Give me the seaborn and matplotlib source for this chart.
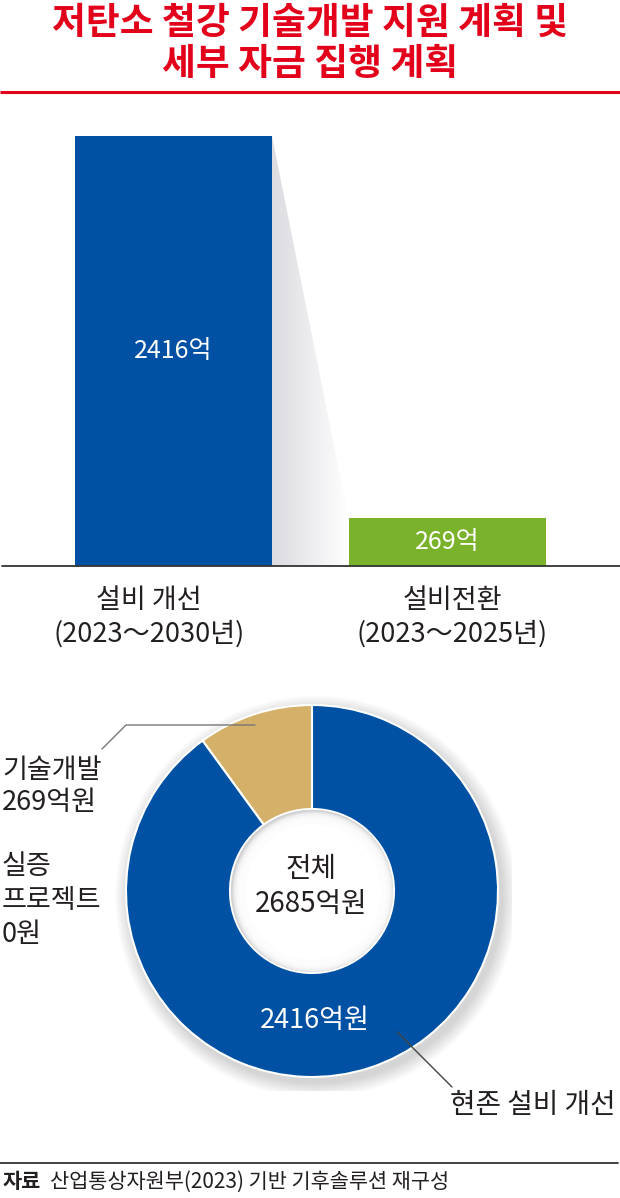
import numpy as np
import pandas as pd
import matplotlib
matplotlib.use("Agg")
import matplotlib.pyplot as plt
import seaborn as sns
from matplotlib.patches import Polygon, Circle

# ---------------- data ----------------
title_lines = ["저탄소 철강 기술개발 지원 계획 및", "세부 자금 집행 계획"]
bar_categories = ["설비 개선", "설비전환"]
bar_periods = ["(2023～2030년)", "(2023～2025년)"]
bar_values = [2416, 269]
bar_value_labels = ["2416억", "269억"]
donut_categories = ["기술개발", "실증 프로젝트", "현존 설비 개선"]
donut_values = [269, 0, 2416]
donut_side_labels = ["기술개발\n269억원", "실증\n프로젝트\n0원"]
donut_inner_label = "2416억원"
donut_outer_label = "현존 설비 개선"
total_lines = ["전체", "2685억원"]
source_head = "자료"
source_text = "산업통상자원부(2023) 기반 기후솔루션 재구성"

# ---------------- style ----------------
RED = "#e2001a"
BLUE = "#0051a3"
GREEN = "#7ab32b"
TAN = "#d4b068"
DARK = "#231f20"

W, H = 620, 1198
sns.set_theme(style="white")
plt.rcParams["font.family"] = ["Noto Sans CJK KR", "DejaVu Sans"]

fig = plt.figure(figsize=(W / 100, H / 100), dpi=100)
fig.patch.set_facecolor("white")


def ax_px(x0, y0, w, h):
    return fig.add_axes([x0 / W, 1 - (y0 + h) / H, w / W, h / H])


# overlay axes in pixel coordinates (y downward)
ov = fig.add_axes([0, 0, 1, 1], zorder=10)
ov.set_xlim(0, W)
ov.set_ylim(H, 0)
ov.axis("off")
ov.patch.set_alpha(0)

# ---------------- title ----------------
ov.text(310, 23, title_lines[0], ha="center", va="center", fontsize=26.5,
        fontweight="black", color=RED)
ov.text(310, 65, title_lines[1], ha="center", va="center", fontsize=26.5,
        fontweight="black", color=RED)
ov.plot([0, 620], [92, 92], color=RED, lw=2.2, solid_capstyle="butt")

# ---------------- bar chart ----------------
base_y, top_y = 566, 136
axb = ax_px(0, 100, 620, base_y - 100)
ymax = bar_values[0] * (base_y - 100) / (base_y - top_y)
spacing = 447 - 173.5
bw = 197 / spacing
df_bar = pd.DataFrame({"cat": bar_categories, "val": bar_values})
sns.barplot(data=df_bar, x="cat", y="val", hue="cat", palette=[BLUE, GREEN],
            width=bw, saturation=1, legend=False, ax=axb, zorder=3,
            edgecolor="none", linewidth=0)
axb.set_xlim(-173.5 / spacing, (620 - 173.5) / spacing)
axb.set_ylim(0, ymax)
axb.axis("off")

# gradient shadow between bars
x_l, x_r = bw / 2, 1 - bw / 2
poly = Polygon([(x_l, bar_values[0]), (x_r, bar_values[1]), (x_r, 0), (x_l, 0)],
               closed=True, facecolor="none", edgecolor="none")
axb.add_patch(poly)
g = np.linspace(0, 1, 256)
c0 = np.array([0.86, 0.86, 0.88])
c1 = np.array([1.0, 1.0, 1.0])
img = (c0[None, :] * (1 - g[:, None]) + c1[None, :] * g[:, None])[None, :, :]
im = axb.imshow(img, extent=[x_l, x_r, 0, bar_values[0]], aspect="auto",
                zorder=2, interpolation="bilinear")
im.set_clip_path(poly)

for i, (v, lab) in enumerate(zip(bar_values, bar_value_labels)):
    axb.text(i, v / 2, lab, ha="center", va="center", color="white",
             fontsize=18, zorder=5)

ov.plot([2, 620], [base_y, base_y], color="#333333", lw=1.3)

label_x = [149, 452]
for x, c, p in zip(label_x, bar_categories, bar_periods):
    ov.text(x, 601, c, ha="center", va="center", fontsize=19.5, color=DARK)
    ov.text(x, 634, p, ha="center", va="center", fontsize=19.5, color=DARK)

# ---------------- donut ----------------
cx, cy, R_px, r_px = 312, 891, 186, 82
axd = ax_px(cx - 200, cy - 200, 400, 400)
R = R_px / 200
r_in = r_px / 200

wedges, _ = axd.pie(donut_values, colors=[TAN, TAN, BLUE], startangle=90,
                    counterclock=True, radius=R,
                    wedgeprops=dict(width=R - r_in, edgecolor="white",
                                    linewidth=1.5))
for w_ in wedges:
    w_.set_zorder(3)
axd.set_xlim(-1, 1)
axd.set_ylim(-1, 1)
axd.set_aspect("equal")
axd.axis("off")

# soft outer shadow
n = 14
for i in range(n):
    rr = R + 0.075 * (1 - i / n)
    axd.add_patch(Circle((0.02, -0.028), rr, color="black", alpha=0.011,
                         lw=0, zorder=1))

# inner hole with soft shadow
axd.add_patch(Circle((0, 0), r_in - 0.004, color="#d2d2d4", lw=0, zorder=4))
m = 16
for i in range(m):
    rr = r_in - 0.006 - 0.06 * i / m
    axd.add_patch(Circle((0.006, -0.006), rr, color="white", alpha=0.25,
                         lw=0, zorder=5))
axd.add_patch(Circle((0.006, -0.006), r_in - 0.07, color="white", lw=0, zorder=5))

# donut texts
ov.text(311, 869, total_lines[0], ha="center", va="center", fontsize=20, color=DARK)
ov.text(311, 904, total_lines[1], ha="center", va="center", fontsize=20, color=DARK)
ov.text(315, 1021, donut_inner_label, ha="center", va="center", fontsize=19.5,
        color="white")

side0 = donut_side_labels[0].split("\n")
ov.text(2, 771, side0[0], ha="left", va="center", fontsize=19.5, color=DARK)
ov.text(2, 803, side0[1], ha="left", va="center", fontsize=19.5, color=DARK)
for yy, t in zip([866, 901, 934], donut_side_labels[1].split("\n")):
    ov.text(2, yy, t, ha="left", va="center", fontsize=19.5, color=DARK)

ov.plot([102, 126, 255], [749, 725, 725], color="#777777", lw=1.0)
ov.plot([397, 452], [1032, 1087], color="#444444", lw=1.0)
ov.text(616, 1105, donut_outer_label, ha="right", va="center", fontsize=20,
        color=DARK)

# ---------------- source ----------------
ov.plot([0, 618], [1163, 1163], color="#333333", lw=1.3)
ov.text(3, 1182, source_head, ha="left", va="center", fontsize=15,
        fontweight="bold", color=DARK)
ov.text(50, 1182, source_text, ha="left", va="center", fontsize=15,
        color=DARK)

fig.savefig("out.png", dpi=100, facecolor="white")
